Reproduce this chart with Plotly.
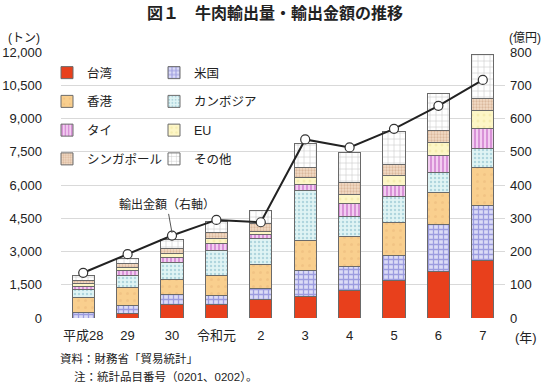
import plotly.graph_objects as go

years = ["平成28", "29", "30", "令和元", "2", "3", "4", "5", "6", "7"]

taiwan    = [0,    212, 619, 619, 814, 963, 1220, 1672, 2080, 2590]
usa       = [240,  362, 421, 389, 528, 1175, 1100, 1130, 2140, 2485]
hongkong  = [664,  814, 709, 904, 1085, 1356, 1355, 1523, 1460, 1718]
cambodia  = [362,  524, 768, 1130, 1158, 2246, 905, 1158, 890, 858]
thai      = [163,  226, 227, 334, 198, 303, 587, 483, 740, 890]
eu        = [122,  122, 149, 226, 119, 299, 425, 452, 630, 827]
singapore = [149,  181, 257, 272, 361, 452, 542, 528, 525, 515]
others    = [212,  257, 376, 479, 573, 1057, 1310, 1475, 1645, 1990]

export_value = [136, 192, 248, 295, 288, 537, 513, 569, 638, 716]

FONT = "Liberation Sans, Arial, Noto Sans CJK JP, sans-serif"
OUTLINE = "#6a6a6a"

L, R, T, B = 61, 45, 52, 69
W, H = 550, 387
PW, PH = W - L - R, H - T - B


def px(x):
    return (x - L) / PW


def py(y):
    return (H - B - y) / PH


series = [
    ("台湾", taiwan, dict(color="#e8401c"), "legend"),
    ("米国", usa, dict(color="#dcdcf6", pattern=dict(shape="+", fgcolor="#5c5cc8", size=5, solidity=0.45, fillmode="overlay")), "legend2"),
    ("香港", hongkong, dict(color="#f9cf8e", pattern=dict(shape=".", fgcolor="#eab87a", size=7, solidity=0.15, fillmode="overlay")), "legend"),
    ("カンボジア", cambodia, dict(color="#e0f4f4", pattern=dict(shape=".", fgcolor="#7fb8c8", size=4, solidity=0.3, fillmode="overlay")), "legend2"),
    ("タイ", thai, dict(color="#f3cdf1", pattern=dict(shape="|", fgcolor="#b848b8", size=4, solidity=0.45, fillmode="overlay")), "legend"),
    ("EU", eu, dict(color="#fdf6c6", pattern=dict(shape=".", fgcolor="#eee29a", size=6, solidity=0.2, fillmode="overlay")), "legend2"),
    ("シンガポール", singapore, dict(color="#f2dcc6", pattern=dict(shape=".", fgcolor="#c49474", size=3, solidity=0.45, fillmode="overlay")), "legend"),
    ("その他", others, dict(color="#ffffff", pattern=dict(shape="+", fgcolor="#9a9a9a", size=6, solidity=0.2, fillmode="overlay")), "legend2"),
]

fig = go.Figure()
for name, vals, mk, lg in series:
    mk = dict(mk)
    mk["line"] = dict(color=OUTLINE, width=1)
    fig.add_trace(go.Bar(x=years, y=vals, name=name, marker=mk, legend=lg,
                         legendgroup=name, yaxis="y"))

fig.add_trace(go.Scatter(x=years, y=export_value, yaxis="y2", mode="lines+markers",
                         line=dict(color="#222222", width=2),
                         marker=dict(symbol="circle", size=9, color="white",
                                     line=dict(color="#333333", width=1.2)),
                         showlegend=False))

fig.update_layout(
    width=W, height=H,
    margin=dict(l=L, r=R, t=T, b=B, autoexpand=False),
    paper_bgcolor="white", plot_bgcolor="white",
    barmode="stack", bargap=0.5,
    font=dict(family=FONT, size=13, color="#222222"),
    xaxis=dict(type="category", showgrid=False, ticks="", tickfont=dict(size=13),
               ticklabelstandoff=8, range=[-0.5, 9.5], tickangle=0),
    yaxis=dict(range=[0, 12000], dtick=1500, tickformat=",", showgrid=True,
               gridcolor="#d9d9d9", gridwidth=1, zeroline=False, ticks="",
               ticklabelstandoff=18, tickfont=dict(size=13)),
    yaxis2=dict(range=[0, 800], dtick=100, overlaying="y", side="right",
                showgrid=False, zeroline=False, ticks="", ticklabelstandoff=4,
                tickfont=dict(size=13)),
    legend=dict(x=px(47), y=py(58), xanchor="left", yanchor="top", bgcolor="rgba(0,0,0,0)",
                tracegroupgap=9.5, font=dict(size=12.5), traceorder="grouped"),
    legend2=dict(x=px(154), y=py(58), xanchor="left", yanchor="top", bgcolor="rgba(0,0,0,0)",
                 tracegroupgap=9.5, font=dict(size=12.5), traceorder="grouped"),
    showlegend=True,
)

def note(text, x, y, size, xanchor="center", bold=False):
    if bold:
        text = "<b>" + text + "</b>"
    fig.add_annotation(text=text, xref="paper", yref="paper", x=px(x), y=py(y),
                       xanchor=xanchor, yanchor="middle", showarrow=False,
                       font=dict(size=size))

note("図１　牛肉輸出量・輸出金額の推移", 275, 13, 16, bold=True)
note("(トン)", 24, 38, 12)
note("(億円)", 525, 38, 12)
note("(年)", 526, 337, 13)
note("資料：財務省「貿易統計」", 58, 358, 11.5, xanchor="left")
note("注：統計品目番号（0201、0202）。", 72, 376, 11.5, xanchor="left")

fig.add_annotation(text="輸出金額（右軸）", xref="x", yref="y2", x=2, y=256,
                   ax=-5, ay=-28, showarrow=True, arrowhead=0, arrowwidth=1,
                   arrowcolor="#555555", font=dict(size=12), standoff=0)

fig.write_html("out.html", config={"displayModeBar": False},
               post_script="document.body.style.margin='0';document.body.style.overflow='hidden';")
